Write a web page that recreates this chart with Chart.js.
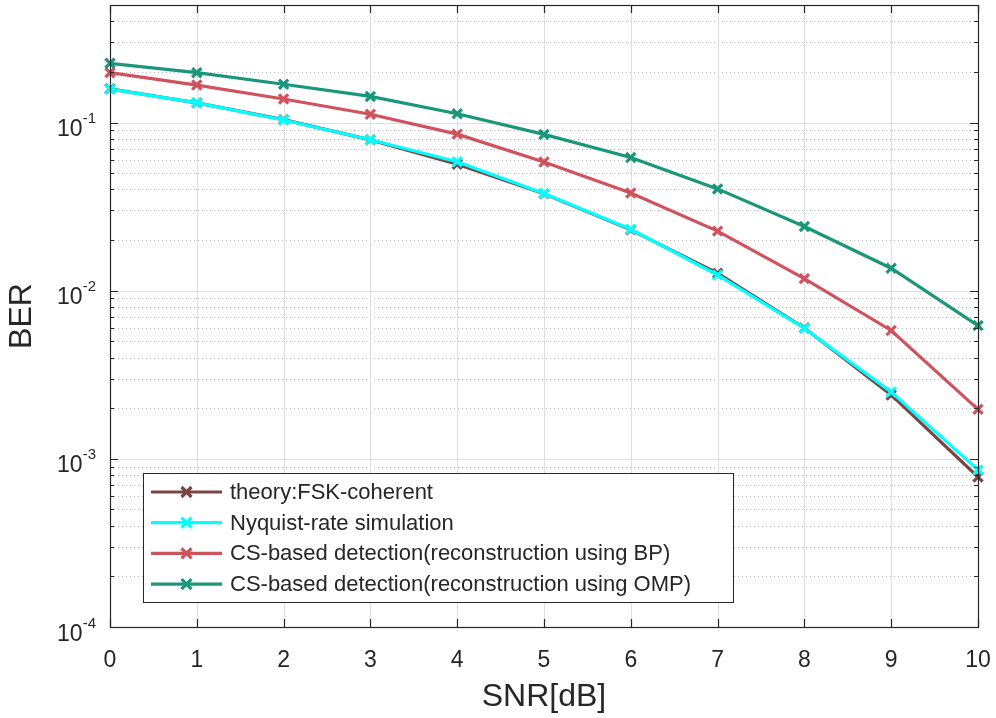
<!DOCTYPE html>
<html>
<head>
<meta charset="utf-8">
<script src="https://cdn.jsdelivr.net/npm/chart.js@4"></script>
<style>
  html, body { margin: 0; padding: 0; background: #fff; }
  canvas { display: block; }
</style>
</head>
<body>
<canvas id="berChart" width="996" height="718"></canvas>
<script>
const snr = [0, 1, 2, 3, 4, 5, 6, 7, 8, 9, 10];
const theoryBer = [0.1587, 0.1309, 0.1040, 0.0789, 0.0565, 0.0377, 0.0230, 0.0127, 0.0060, 0.0024, 0.00078];
const nyquistBer = [0.158, 0.131, 0.1035, 0.079, 0.0585, 0.0378, 0.0232, 0.0124, 0.00597, 0.0025, 0.00086];
const bpBer = [0.198, 0.167, 0.138, 0.112, 0.0853, 0.0582, 0.0381, 0.0226, 0.0118, 0.0058, 0.00197];
const ompBer = [0.225, 0.198, 0.169, 0.143, 0.1127, 0.085, 0.062, 0.0403, 0.0241, 0.0136, 0.0062];
const seriesNames = [
    'theory:FSK-coherent',
    'Nyquist-rate simulation',
    'CS-based detection(reconstruction using BP)',
    'CS-based detection(reconstruction using OMP)'
];
const yDecades = [-4, -3, -2, -1];

const axisColor = '#262626';
const fontName = 'Arial, "Liberation Sans", Helvetica, sans-serif';

function pts(values) {
    return snr.map((x, i) => ({ x: x, y: values[i] }));
}

function series(label, values, color, order) {
    return {
        label: label,
        data: pts(values),
        borderColor: color,
        backgroundColor: color,
        borderWidth: 3.2,
        pointStyle: 'crossRot',
        pointRadius: 6.5,
        pointBorderWidth: 3.2,
        pointBorderColor: color,
        tension: 0,
        clip: false,
        order: order
    };
}

// grid, box, tick labels and the legend box
const frame = {
    id: 'frame',
    beforeDraw(chart) {
        const ctx = chart.ctx;
        ctx.save();
        ctx.fillStyle = '#fff';
        ctx.fillRect(0, 0, chart.width, chart.height);
        ctx.restore();
    },
    beforeDatasetsDraw(chart) {
        const ctx = chart.ctx;
        const a = chart.chartArea;
        const xs = chart.scales.x, ys = chart.scales.y;
        ctx.save();
        ctx.lineWidth = 1;
        // minor dotted lines
        ctx.strokeStyle = 'rgb(185,185,185)';
        ctx.setLineDash([1, 3]);
        yDecades.forEach(k => {
            for (let m = 2; m <= 9; m++) {
                const v = m * Math.pow(10, k);
                if (v > ys.max) continue;
                const py = Math.round(ys.getPixelForValue(v)) + 0.5;
                ctx.beginPath();
                ctx.moveTo(a.left, py);
                ctx.lineTo(a.right, py);
                ctx.stroke();
            }
        });
        // major solid lines
        ctx.setLineDash([]);
        ctx.strokeStyle = 'rgb(222,222,222)';
        yDecades.forEach(k => {
            const py = Math.round(ys.getPixelForValue(Math.pow(10, k))) + 0.5;
            ctx.beginPath();
            ctx.moveTo(a.left, py);
            ctx.lineTo(a.right, py);
            ctx.stroke();
        });
        snr.forEach(x => {
            const px = Math.round(xs.getPixelForValue(x)) + 0.5;
            ctx.beginPath();
            ctx.moveTo(px, a.top);
            ctx.lineTo(px, a.bottom);
            ctx.stroke();
        });
        ctx.restore();
    },
    afterDatasetsDraw(chart) {
        const ctx = chart.ctx;
        const a = chart.chartArea;
        const xs = chart.scales.x, ys = chart.scales.y;
        ctx.save();
        ctx.strokeStyle = axisColor;
        ctx.lineWidth = 1.2;
        ctx.strokeRect(a.left + 0.5, a.top + 0.5, a.right - a.left, a.bottom - a.top);

        // inward ticks
        ctx.beginPath();
        snr.forEach(x => {
            const px = Math.round(xs.getPixelForValue(x)) + 0.5;
            ctx.moveTo(px, a.bottom);
            ctx.lineTo(px, a.bottom - 8);
            ctx.moveTo(px, a.top);
            ctx.lineTo(px, a.top + 8);
        });
        yDecades.forEach(k => {
            for (let m = 1; m <= 9; m++) {
                const v = m * Math.pow(10, k);
                if (v > ys.max) continue;
                const len = m === 1 ? 8 : 4;
                const py = Math.round(ys.getPixelForValue(v)) + 0.5;
                ctx.moveTo(a.left, py);
                ctx.lineTo(a.left + len, py);
                ctx.moveTo(a.right, py);
                ctx.lineTo(a.right - len, py);
            }
        });
        ctx.stroke();

        // x tick labels
        ctx.fillStyle = axisColor;
        ctx.textBaseline = 'alphabetic';
        ctx.textAlign = 'center';
        ctx.font = '23px ' + fontName;
        snr.forEach(x => {
            ctx.fillText(String(x), xs.getPixelForValue(x), a.bottom + 39.5);
        });

        // y tick labels 10^k
        ctx.textAlign = 'left';
        yDecades.forEach(k => {
            const py = ys.getPixelForValue(Math.pow(10, k));
            const exp = String(k);
            ctx.font = '15px ' + fontName;
            const ew = ctx.measureText(exp).width;
            ctx.font = '23px ' + fontName;
            const bw = ctx.measureText('10').width;
            const right = a.left - 14;
            ctx.fillText('10', right - ew - bw, py + 13.5);
            ctx.font = '15px ' + fontName;
            ctx.fillText(exp, right - ew, py + 0.5);
        });

        // legend
        const lx = 143, ly = 473, lw = 590, lh = 129;
        ctx.fillStyle = '#fff';
        ctx.fillRect(lx, ly, lw, lh);
        ctx.strokeStyle = axisColor;
        ctx.lineWidth = 1;
        ctx.strokeRect(lx + 0.5, ly + 0.5, lw, lh);
        ctx.font = '22px ' + fontName;
        ctx.textBaseline = 'middle';
        chart.data.datasets.forEach((ds, i) => {
            const ey = ly + 19 + i * 30.7;
            ctx.strokeStyle = ds.borderColor;
            ctx.lineWidth = 3.2;
            ctx.beginPath();
            ctx.moveTo(151, ey);
            ctx.lineTo(222, ey);
            ctx.stroke();
            const r = 5, cx = 186.5;
            ctx.beginPath();
            ctx.moveTo(cx - r, ey - r);
            ctx.lineTo(cx + r, ey + r);
            ctx.moveTo(cx - r, ey + r);
            ctx.lineTo(cx + r, ey - r);
            ctx.stroke();
            ctx.fillStyle = axisColor;
            ctx.fillText(ds.label, 230, ey + 1);
        });
        ctx.restore();
    }
};

const ctx = document.getElementById('berChart').getContext('2d');
const berChart = new Chart(ctx, {
    type: 'line',
    data: {
        datasets: [
            series(seriesNames[0], theoryBer, 'rgb(125,68,68)', 4),
            series(seriesNames[1], nyquistBer, 'rgb(0,255,255)', 3),
            series(seriesNames[2], bpBer, 'rgb(207,82,92)', 2),
            series(seriesNames[3], ompBer, 'rgb(26,150,122)', 1)
        ]
    },
    options: {
        responsive: false,
        animation: false,
        layout: { autoPadding: false, padding: { top: 5, right: 18, left: 0, bottom: 0 } },
        plugins: {
            legend: { display: false },
            tooltip: { enabled: false }
        },
        scales: {
            x: {
                type: 'linear',
                min: 0,
                max: 10,
                afterFit: s => { s.height = 91; },
                grid: { display: false, drawTicks: false },
                border: { display: false },
                ticks: { display: false, stepSize: 1 },
                title: {
                    display: true,
                    text: 'SNR[dB]',
                    color: axisColor,
                    padding: { top: 0, bottom: 2 },
                    font: { family: fontName, size: 32 }
                }
            },
            y: {
                type: 'logarithmic',
                min: 1e-4,
                max: 0.5,
                afterFit: s => { s.width = 110; },
                grid: { display: false, drawTicks: false },
                border: { display: false },
                ticks: { display: false },
                title: {
                    display: true,
                    text: 'BER',
                    color: axisColor,
                    padding: { top: 3, bottom: 0 },
                    font: { family: fontName, size: 32 }
                }
            }
        }
    },
    plugins: [frame]
});
</script>
</body>
</html>
